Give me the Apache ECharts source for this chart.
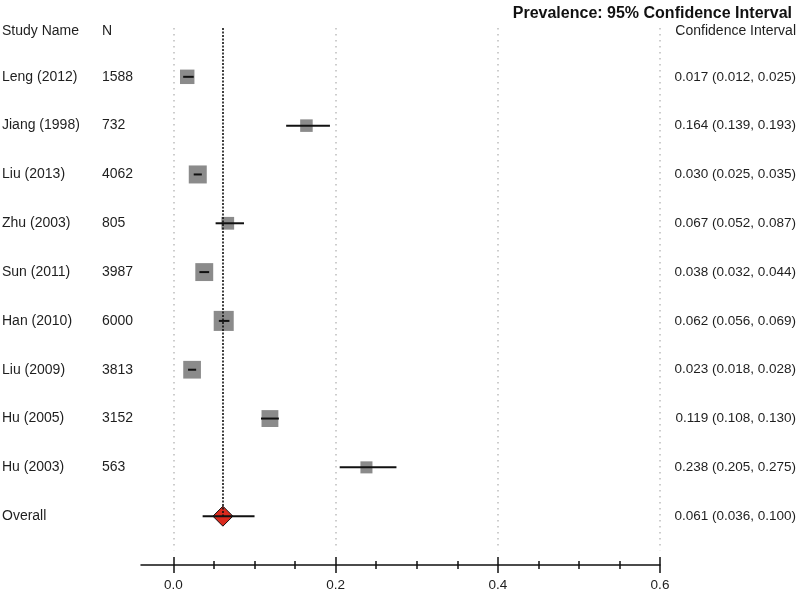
<!DOCTYPE html>
<html>
<head>
<meta charset="utf-8">
<script src="https://cdn.jsdelivr.net/npm/echarts@6/dist/echarts.min.js"></script>
<style>html,body{margin:0;padding:0;background:#fff}#chart{width:800px;height:592px}</style>
</head>
<body>
<div id="chart"></div>
<script>
// ---- data ----
const studyNames = ['Leng (2012)', 'Jiang (1998)', 'Liu (2013)', 'Zhu (2003)', 'Sun (2011)', 'Han (2010)', 'Liu (2009)', 'Hu (2005)', 'Hu (2003)'];
const sampleSizes = [1588, 732, 4062, 805, 3987, 6000, 3813, 3152, 563];
const estimates = [0.017, 0.164, 0.030, 0.067, 0.038, 0.062, 0.023, 0.119, 0.238];
const lowerCI = [0.012, 0.139, 0.025, 0.052, 0.032, 0.056, 0.018, 0.108, 0.205];
const upperCI = [0.025, 0.193, 0.035, 0.087, 0.044, 0.069, 0.028, 0.130, 0.275];
const overallLabel = 'Overall';
const overallEstimate = [0.061];
const overallLower = [0.036];
const overallUpper = [0.100];
const xTickValues = [0.0, 0.2, 0.4, 0.6];
const xMinorTickValues = [0.05, 0.10, 0.15, 0.25, 0.30, 0.35, 0.45, 0.50, 0.55];
const headerLeft = ['Study Name', 'N'];
const headerRight = 'Confidence Interval';
const titleText = 'Prevalence: 95% Confidence Interval';

// ---- build ----
const FONT = '"Liberation Sans", Arial, sans-serif';
const TXT = '#1e1e1e';
const FS = 13.5;
const FS_NAME = 14;
const nRows = studyNames.length + 1; // + overall
const rowNames = studyNames.concat([overallLabel]);
const rowN = sampleSizes.concat(['']);
const rowEst = estimates.concat(overallEstimate);
const rowLo = lowerCI.concat(overallLower);
const rowHi = upperCI.concat(overallUpper);
const rowIdx = rowNames.map((_, i) => i);
const HEADER_ROW = -0.94;
const labelRows = [HEADER_ROW].concat(rowIdx);
const overallRow = nRows - 1;

const fmt = v => v.toFixed(3);

const chart = echarts.init(document.getElementById('chart'), null, {renderer: 'canvas'});

function xAxisBase(extra) {
  const base = {
    type: 'value', position: 'bottom', min: -0.04, max: 0.6, gridIndex: 0,
    splitLine: {show: false}, axisLabel: {show: false}, axisTick: {show: false}
  };
  const o = Object.assign(base, extra);
  o.axisLine = Object.assign({onZero: false}, extra.axisLine || {show: false});
  return o;
}

const option = {
  backgroundColor: '#fff',
  animation: false,
  title: {
    text: titleText, right: 3, top: 1,
    textStyle: {fontFamily: FONT, fontWeight: 'bold', fontSize: 16, color: '#111'}
  },
  grid: {left: 141, right: 140, top: 28, bottom: 27, containLabel: false, outerBoundsMode: 'none'},
  xAxis: [
    xAxisBase({
      axisLine: {show: true, lineStyle: {color: '#111', width: 1.5}},
      axisTick: {show: true, customValues: xTickValues, length: 8, lineStyle: {color: '#111', width: 1.5}},
      axisLabel: {show: true, customValues: xTickValues, formatter: v => v.toFixed(1),
        margin: 13, fontFamily: FONT, fontSize: FS, color: TXT}
    }),
    xAxisBase({axisTick: {show: true, inside: true, customValues: xTickValues, length: 8, lineStyle: {color: '#111', width: 1.5}}}),
    xAxisBase({axisTick: {show: true, customValues: xMinorTickValues, length: 4, lineStyle: {color: '#111', width: 1.5}}}),
    xAxisBase({axisTick: {show: true, inside: true, customValues: xMinorTickValues, length: 4, lineStyle: {color: '#111', width: 1.5}}})
  ],
  yAxis: [
    {
      type: 'value', inverse: true, min: -1, max: nRows, position: 'left',
      axisLine: {show: false, onZero: false}, axisTick: {show: false}, splitLine: {show: false},
      axisLabel: {
        show: true, customValues: labelRows, align: 'left', margin: 139,
        formatter: v => {
          if (v < 0) return '{a|' + headerLeft[0] + '}{b|' + headerLeft[1] + '}';
          return '{a|' + rowNames[v] + '}{b|' + rowN[v] + '}';
        },
        rich: {
          a: {width: 100, fontFamily: FONT, fontSize: FS_NAME, color: TXT},
          b: {fontFamily: FONT, fontSize: FS_NAME, color: TXT}
        }
      }
    },
    {
      type: 'value', inverse: true, min: -1, max: nRows, position: 'right',
      axisLine: {show: false, onZero: false}, axisTick: {show: false}, splitLine: {show: false},
      axisLabel: {
        show: true, customValues: labelRows, align: 'right', margin: 136,
        fontFamily: FONT, fontSize: FS, color: TXT,
        formatter: v => v < 0 ? '{h|' + headerRight + '}' : fmt(rowEst[v]) + ' (' + fmt(rowLo[v]) + ', ' + fmt(rowHi[v]) + ')',
        rich: {h: {fontFamily: FONT, fontSize: 14, color: TXT}}
      }
    }
  ],
  series: [
    {
      // reference grid lines (dotted)
      type: 'scatter', xAxisIndex: 0, yAxisIndex: 0, data: [], silent: true, z: 1,
      markLine: {
        silent: true, symbol: ['none', 'none'], animation: false, label: {show: false},
        lineStyle: {color: '#bdbdbd', type: [1.5, 4.5], width: 1.5},
        data: xTickValues.map(t => [{coord: [t, -1]}, {coord: [t, overallRow + 0.7]}])
      }
    },
    {
      type: 'scatter', name: 'studies', xAxisIndex: 0, yAxisIndex: 0, z: 2,
      symbol: 'rect',
      symbolSize: val => 8.5 + 0.149 * Math.sqrt(val[2]),
      itemStyle: {color: '#8b8b8b', opacity: 1},
      data: estimates.map((e, i) => [e, i, sampleSizes[i]])
    },
    {
      type: 'scatter', name: 'overall', xAxisIndex: 0, yAxisIndex: 0, z: 3,
      symbol: 'diamond', symbolSize: [20, 20],
      itemStyle: {color: '#da2a1e', borderColor: '#111', borderWidth: 1, opacity: 1},
      data: overallEstimate.map(e => [e, overallRow])
    },
    {
      type: 'custom', name: 'ci', xAxisIndex: 0, yAxisIndex: 0, z: 4,
      renderItem: (params, api) => {
        const a = api.coord([api.value(0), api.value(2)]);
        const b = api.coord([api.value(1), api.value(2)]);
        return {type: 'line', shape: {x1: a[0], y1: a[1], x2: b[0], y2: b[1]},
          style: {stroke: '#111', lineWidth: 2}};
      },
      encode: {x: [0, 1], y: 2},
      data: rowIdx.map(i => [rowLo[i], rowHi[i], i])
    },
    {
      type: 'scatter', xAxisIndex: 0, yAxisIndex: 0, data: [], silent: true, z: 6,
      markLine: {
        silent: true, symbol: ['none', 'none'], animation: false, label: {show: false},
        lineStyle: {color: '#111', type: [2, 1.5], width: 1.6},
        data: overallEstimate.map(e => [{coord: [e, -1]}, {coord: [e, overallRow]}])
      }
    }
  ]
};
chart.setOption(option);
</script>
</body>
</html>
